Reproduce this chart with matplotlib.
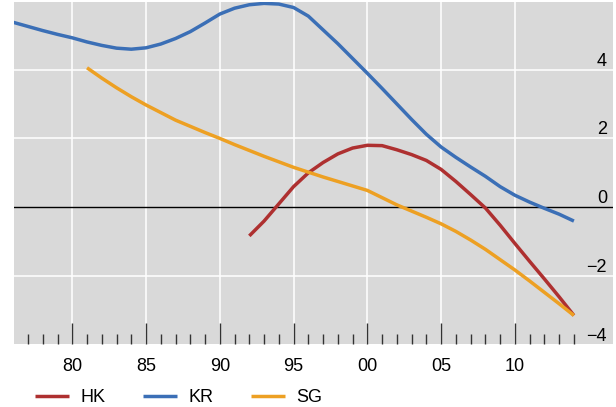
import numpy as np
import matplotlib
matplotlib.use("Agg")
import matplotlib.pyplot as plt
from matplotlib.ticker import FixedLocator
import matplotlib.transforms as mtransforms

plt.rcParams['font.family'] = ['Liberation Sans', 'DejaVu Sans']

# data
kr_years = list(range(1976, 2015))
kr_vals = [5.37, 5.25, 5.13, 5.02, 4.92, 4.80, 4.70, 4.62, 4.59, 4.63,
           4.74, 4.90, 5.10, 5.35, 5.61, 5.78, 5.88, 5.92, 5.90, 5.80,
           5.55, 5.15, 4.75, 4.32, 3.89, 3.45, 3.00, 2.55, 2.12, 1.75,
           1.45, 1.17, 0.90, 0.60, 0.35, 0.15, -0.03, -0.20, -0.40]

sg_years = list(range(1981, 2015))
sg_vals = [4.05, 3.75, 3.47, 3.21, 2.97, 2.75, 2.53, 2.35, 2.17, 2.00,
           1.82, 1.65, 1.48, 1.32, 1.16, 1.02, 0.88, 0.75, 0.62, 0.49,
           0.28, 0.07, -0.11, -0.29, -0.48, -0.70, -0.95, -1.22, -1.52, -1.82,
           -2.14, -2.47, -2.80, -3.14]

hk_years = list(range(1992, 2015))
hk_vals = [-0.83, -0.40, 0.10, 0.60, 1.00, 1.30, 1.55, 1.72, 1.80, 1.79,
           1.67, 1.53, 1.36, 1.10, 0.75, 0.37, -0.02, -0.52, -1.05, -1.57,
           -2.08, -2.60, -3.14]

series = [("HK", hk_years, hk_vals, '#AE3030'),
          ("KR", kr_years, kr_vals, '#3B6FB6'),
          ("SG", sg_years, sg_vals, '#EDA023')]

major_years = list(range(1980, 2011, 5))
major_labels = ['80', '85', '90', '95', '00', '05', '10']
minor_years = list(range(1977, 2015))
y_grid = [-2, 2, 4]
y_labels = [4, 2, 0, -2, -4]

fig = plt.figure(figsize=(6.16, 4.07), dpi=100)
ax = fig.add_axes([14 / 616, 1 - 343.7 / 407, 599 / 616, 341.7 / 407])
ax.set_facecolor('#D9D9D9')

for name, xs, ys, col in series:
    ax.plot(xs, ys, color=col, lw=2.5, label=name, solid_capstyle='butt',
            solid_joinstyle='round', zorder=3)

ax.set_xlim(1976.05, 2016.65)
ax.set_ylim(-3.96, 5.96)

# grid
for v in y_grid:
    ax.axhline(v, color='white', lw=1.1, zorder=1)
for yr in major_years:
    ax.axvline(yr, color='white', lw=1.1, zorder=1)
ax.axhline(0, color='black', lw=1.0, zorder=2)

ax.set_xticks(major_years)
ax.set_xticklabels(major_labels, fontsize=13)
ax.xaxis.set_minor_locator(FixedLocator(minor_years))
ax.tick_params(axis='x', which='major', direction='in', length=15, width=1,
               color='#333333', pad=10)
ax.tick_params(axis='x', which='minor', direction='in', length=7, width=1,
               color='#333333')
ax.set_yticks([])

for s in ax.spines.values():
    s.set_visible(False)

trans = mtransforms.blended_transform_factory(ax.transAxes, ax.transData)
for v in y_labels:
    lab = f'{v}'.replace('-', '\u2212')
    ax.text(0.99, v, lab, transform=trans, ha='right', va='bottom',
            fontsize=13, clip_on=False)

fig.legend(loc='center left', bbox_to_anchor=(35 / 616, 1 - 397.5 / 407),
           ncol=3, frameon=False, fontsize=13, handlelength=1.9,
           handletextpad=0.6, columnspacing=2.1, borderpad=0, borderaxespad=0)

fig.savefig('out.png', dpi=100)
